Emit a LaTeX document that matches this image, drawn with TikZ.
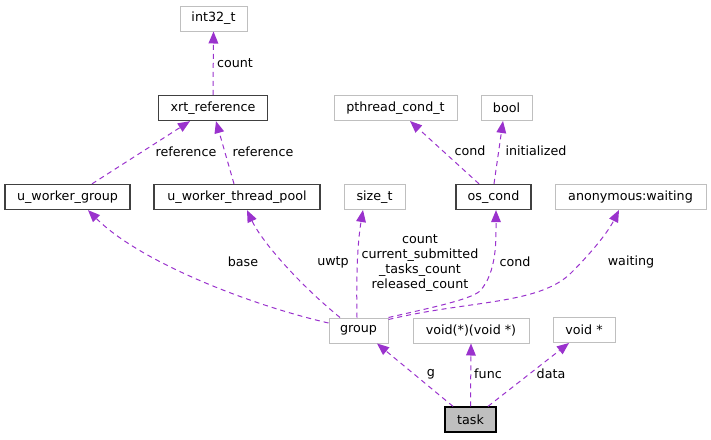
\documentclass[tikz,border=0pt]{standalone}
\usepackage{fontspec}
\setmainfont{DejaVu Sans}
\usetikzlibrary{arrows.meta}
\definecolor{edgec}{HTML}{9A32CD}
\definecolor{grayb}{HTML}{BFBFBF}
\definecolor{darkb}{HTML}{404040}
\begin{document}
\begin{tikzpicture}[x=1pt,y=-1pt,
  font=\fontsize{12.7}{14.7}\selectfont,
  box/.style={draw=grayb,line width=1pt,fill=white,minimum height=25pt,inner sep=0pt},
  docbox/.style={draw=darkb,line width=1.3pt,fill=white,minimum height=25pt,inner sep=0pt},
  rel/.style={draw=edgec,line width=1pt,dash pattern=on 5pt off 4pt,
    -{Triangle[length=12pt,width=10pt,fill=edgec,line width=0pt]}},
  lbl/.style={inner sep=0pt,align=center}]
\useasboundingbox (0,0) rectangle (711,439);
% nodes
\node[box,minimum width=67pt] (i32) at (213.5,18.5) {int32\_t};
\node[docbox,minimum width=109pt] (xrt) at (213,108) {xrt\_reference};
\node[docbox,minimum width=125pt] (uwg) at (67.5,197) {u\_worker\_group};
\node[docbox,minimum width=166pt] (uwtp) at (237,197) {u\_worker\_thread\_pool};
\node[box,minimum width=123pt] (pct) at (395.5,108) {pthread\_cond\_t};
\node[box,minimum width=51pt] (bool) at (506.5,108) {bool};
\node[box,minimum width=61pt] (szt) at (374.5,197) {size\_t};
\node[docbox,minimum width=75pt] (oc) at (493.5,197) {os\_cond};
\node[box,minimum width=151pt] (anon) at (630.5,197) {anonymous:waiting};
\node[box,minimum width=59pt] (grp) at (358.5,330.5) {group};
\node[box,minimum width=116pt] (vf) at (471,330.5) {void(*)(void *)};
\node[box,minimum width=62pt] (vs) at (584,330) {void *};
\node[draw=black,line width=1.3pt,fill=grayb,minimum width=51pt,minimum height=25pt,inner sep=0pt] (task) at (470.5,419.5) {task};
% edges
\draw[rel] (xrt.north) -- (i32.south);
\draw[rel] ([xshift=24.5pt]uwg.north) -- ([xshift=-23pt]xrt.south);
\draw[rel] ([xshift=-3pt]uwtp.north) -- ([xshift=3pt]xrt.south);
\draw[rel] ([xshift=-14.5pt]oc.north) -- ([xshift=14.5pt]pct.south);
\draw[rel] ([xshift=0.5pt]oc.north) -- ([xshift=-3.5pt]bool.south);
\draw[rel] ([yshift=7.5pt]grp.west) .. controls (250,305) and (140,262) .. ([xshift=20.5pt]uwg.south);
\draw[rel] ([xshift=-18.5pt]grp.north) .. controls (300,285) and (262,242) .. ([xshift=10pt]uwtp.south);
\draw[rel] ([xshift=-1.5pt]grp.north) .. controls (356,270) and (358,240) .. ([xshift=-11.5pt]szt.south);
\draw[rel] (grp.north east) .. controls (425,309) and (470,300) .. (480,291) .. controls (497,272) and (496,240) .. ([xshift=2.5pt]oc.south);
\draw[rel] ([yshift=-2pt]grp.north east) .. controls (470,300) and (540,305) .. (572,272) .. controls (592,252) and (608,232) .. ([xshift=-11.5pt]anon.south);
\draw[rel] ([xshift=-17.5pt]task.north) -- ([xshift=18.5pt]grp.south);
\draw[rel] (task.north) -- (vf.south);
\draw[rel] ([xshift=17.5pt]task.north) -- ([xshift=-15pt]vs.south);
% labels
\node[lbl] (l1) at (235,63) {count};
\node[lbl] (l2) at (186,152) {reference};
\node[lbl] (l3) at (263,152) {reference};
\node[lbl] (l4) at (470,151) {cond};
\node[lbl] (l5) at (536,151) {initialized};
\node[lbl] (l6) at (243,262) {base};
\node[lbl] (l7) at (333,262) {uwtp};
\node[lbl] (l8) at (420,263) {count\\current\_submitted\\\_tasks\_count\\released\_count};
\node[lbl] (l9) at (515,262) {cond};
\node[lbl] (l10) at (631,262) {waiting};
\node[lbl] (l11) at (431,374) {g};
\node[lbl] (l12) at (488,374) {func};
\node[lbl] (l13) at (551,374) {data};
\end{tikzpicture}
\end{document}
